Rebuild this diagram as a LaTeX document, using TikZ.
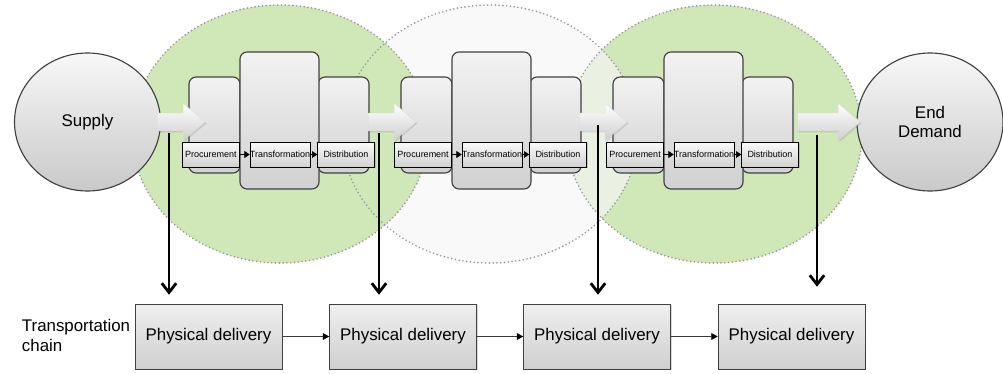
\documentclass[tikz,border=0pt]{standalone}
\usepackage{fontspec}
\setmainfont{Liberation Sans}
\usetikzlibrary{arrows.meta,positioning,shapes.geometric,shapes.arrows,shadows,calc}
\definecolor{meadow}{RGB}{208,231,183}
\definecolor{mist}{RGB}{246,246,246}
\definecolor{dots}{RGB}{150,150,150}
\definecolor{rim}{RGB}{64,64,64}
\tikzset{
  zone/.style={draw=dots,line width=1.3pt,dash pattern=on 0pt off 2.7pt,line cap=round},
  pole/.style={ellipse,draw=rim,thick,top color=gray!6,bottom color=gray!42,
    minimum width=3.65cm,minimum height=3.45cm,align=center,
    font=\fontsize{12}{14}\selectfont},
  stage/.style={draw=rim,thick,rounded corners=5pt,top color=gray!10,bottom color=gray!36,
    minimum width=1.275cm,minimum height=2.4cm,inner sep=0pt},
  tag box/.style={draw=black,thin,top color=gray!4,bottom color=gray!36,
    minimum width=1.425cm,minimum height=0.625cm,inner sep=0pt,
    font=\fontsize{6.4}{7}\selectfont,
    drop shadow={opacity=0.35,shadow xshift=0.8pt,shadow yshift=-0.8pt}},
  fat/.style={single arrow,single arrow head extend=0.24cm,single arrow tip angle=80,
    inner xsep=0pt,inner ysep=0.22cm,top color=white,middle color=gray!8,bottom color=gray!38,
    draw=gray!30,very thin,
    drop shadow={opacity=0.25,shadow xshift=0.8pt,shadow yshift=-1pt}},
  tick/.style={-{Triangle[length=1.3mm,width=1.7mm]},thin,black},
  handoff/.style={-{Straight Barb[length=2.3mm,width=3.6mm]},line width=2pt,black},
  pd/.style={draw=rim,top color=gray!12,bottom color=gray!38,
    minimum width=3.675cm,minimum height=1.625cm,font=\fontsize{12}{14}\selectfont,
    drop shadow={opacity=0.3,shadow xshift=0.8pt,shadow yshift=-0.8pt}},
  link/.style={draw=gray!45!black,thin,-{Triangle[length=1.6mm,width=1.7mm,black]}},
}

\begin{document}
\begin{tikzpicture}
  \useasboundingbox (0,0) rectangle (25.075,-9.35);
  % overlapping stage zones, right one first so the left one sits on top
  \foreach \cx/\fc/\op in {17.85/meadow/1,12.25/mist/0.7,7/meadow/1}
    \fill[\fc,fill opacity=\op] (\cx,-3.35) ellipse [x radius=3.7cm,y radius=3.225cm];
  \foreach \cx in {7,12.25,17.85}
    \draw[zone] (\cx,-3.35) ellipse [x radius=3.7cm,y radius=3.225cm];

  \node[pole] (supply) at (2.1875,-3.05) {Supply};
  \node[pole] (demand) at (23.25,-3.05) {End\\Demand};

  % the three process stages
  \foreach \g [count=\i] in {4.725,10.025,15.325} {
    \node[stage] (pb\i) at (\g+0.6375,-3.125) {};
    \node[stage] (db\i) at (\g+3.8625,-3.125) {};
    \node[stage,minimum width=1.975cm,minimum height=3.425cm] (tb\i) at (\g+2.2625,-3.0125) {};
  }

  % flow arrows
  \foreach \x/\l [count=\i] in {4.4/1.2,9.675/1.2,14.95/1.2,20.5875/1.575}
    \node[fat,minimum height=\l cm] (f\i) at (\x,-3.05) {};

  \foreach \g [count=\i] in {4.725,10.025,15.325} {
    \node[tag box] (p\i) at (\g+0.55,-3.8625) {Procurement};
    \node[tag box,minimum width=1.45cm] (t\i) at (\g+2.275,-3.8625) {Transformation};
    \node[tag box] (d\i) at (\g+3.925,-3.8625) {Distribution};
    \draw[tick] (p\i) -- (t\i);
    \draw[tick] (t\i) -- (d\i);
  }

  % transportation chain
  \node[anchor=west,align=left,font=\fontsize{12}{14.2}\selectfont] (chain) at (0.425,-8.375) {Transportation\\chain};
  \foreach \x [count=\i] in {5.2125,10.075,14.925,19.7875}
    \node[pd] (pd\i) at (\x,-8.4125) {Physical delivery};
  \foreach \i/\j in {1/2,2/3,3/4}
    \draw[link] (pd\i) -- (pd\j);

  \foreach \x/\y/\s [count=\i] in {4.225/-3.325/0.225,9.475/-3.325/0.225,14.95/-3.125/0.225,20.425/-3.375/0.425} {
    \coordinate (h\i) at (\x,\y);
    \draw[handoff,shorten >=\s cm] (h\i) -- (h\i |- pd\i.north);
  }
\end{tikzpicture}
\end{document}
